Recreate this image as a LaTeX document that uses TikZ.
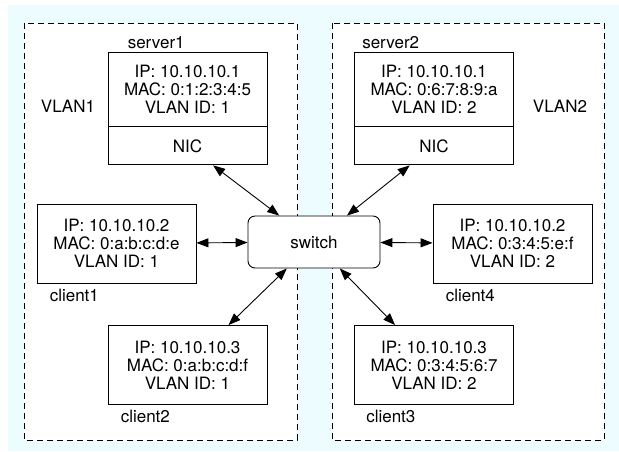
\documentclass[tikz,border=0pt]{standalone}
\usepackage{fontspec}
\setmainfont{TeX Gyre Heros}
\usepackage{tikz}
\usetikzlibrary{arrows.meta, positioning}
\definecolor{bgcyan}{RGB}{236,252,255}

\begin{document}
\begin{tikzpicture}[
    x=1pt, y=-1pt,
    font=\fontsize{17}{18}\selectfont,
    vlan/.style={draw, dash pattern=on 6pt off 4pt, fill=white, line width=0.9pt},
    host/.style={draw, fill=white, minimum width=159pt, minimum height=79pt, align=center, inner sep=0pt, line width=0.9pt},
    info/.style={host, minimum height=74pt},
    nic/.style={host, minimum height=38pt},
    swbox/.style={draw, fill=white, rounded corners=7pt, minimum width=132pt, minimum height=52pt, line width=0.9pt},
    tag/.style={inner sep=0pt},
    link/.style={{Triangle[length=12pt,width=9pt]}-{Triangle[length=12pt,width=9pt]}, line width=0.9pt}
]
    \useasboundingbox (0,0) rectangle (619,451);
    \fill[bgcyan] (8,5) rectangle (619,451);

    % VLAN areas
    \draw[vlan] (24,23) rectangle (297,440);
    \draw[vlan] (332,23) rectangle (604,440);
    \node[tag] (vlan1) at (68,106) {VLAN1};
    \node[tag] (vlan2) at (560,106) {VLAN2};

    % Servers
    \node[info] (srv1) at (187.5,89) {IP: 10.10.10.1\\MAC: 0:1:2:3:4:5\\VLAN ID: 1};
    \node[nic, below=0pt of srv1] (nic1) {NIC};
    \node[tag, above right=2.5pt and 20pt of srv1.north west, anchor=south west] (lsrv1) {server1};

    \node[info] (srv2) at (434,89) {IP: 10.10.10.1\\MAC: 0:6:7:8:9:a\\VLAN ID: 2};
    \node[nic, below=0pt of srv2] (nic2) {NIC};
    \node[tag, above right=2.5pt and 8pt of srv2.north west, anchor=south west] (lsrv2) {server2};

    % Switch
    \node[swbox] (switch) at (314,242) {switch};

    % Clients
    \node[host] (cl1) at (116.5,243.5) {IP: 10.10.10.2\\MAC: 0:a:b:c:d:e\\VLAN ID: 1};
    \node[tag, below right=5pt and 13pt of cl1.south west, anchor=north west] (lcl1) {client1};

    \node[host] (cl2) at (187.5,365) {IP: 10.10.10.3\\MAC: 0:a:b:c:d:f\\VLAN ID: 1};
    \node[tag, below right=5pt and 13pt of cl2.south west, anchor=north west] (lcl2) {client2};

    \node[host] (cl4) at (512.5,243.5) {IP: 10.10.10.2\\MAC: 0:3:4:5:e:f\\VLAN ID: 2};
    \node[tag, below right=5pt and 13pt of cl4.south west, anchor=north west] (lcl4) {client4};

    \node[host] (cl3) at (434,365) {IP: 10.10.10.3\\MAC: 0:3:4:5:6:7\\VLAN ID: 2};
    \node[tag, below right=5pt and 12pt of cl3.south west, anchor=north west] (lcl3) {client3};

    % Links
    \draw[link] (nic1) -- (switch);
    \draw[link] (cl1) -- (switch);
    \draw[link] (cl2) -- (switch);
    \draw[link] (nic2) -- (switch);
    \draw[link] (cl4) -- (switch);
    \draw[link] (cl3) -- (switch);
\end{tikzpicture}
\end{document}
